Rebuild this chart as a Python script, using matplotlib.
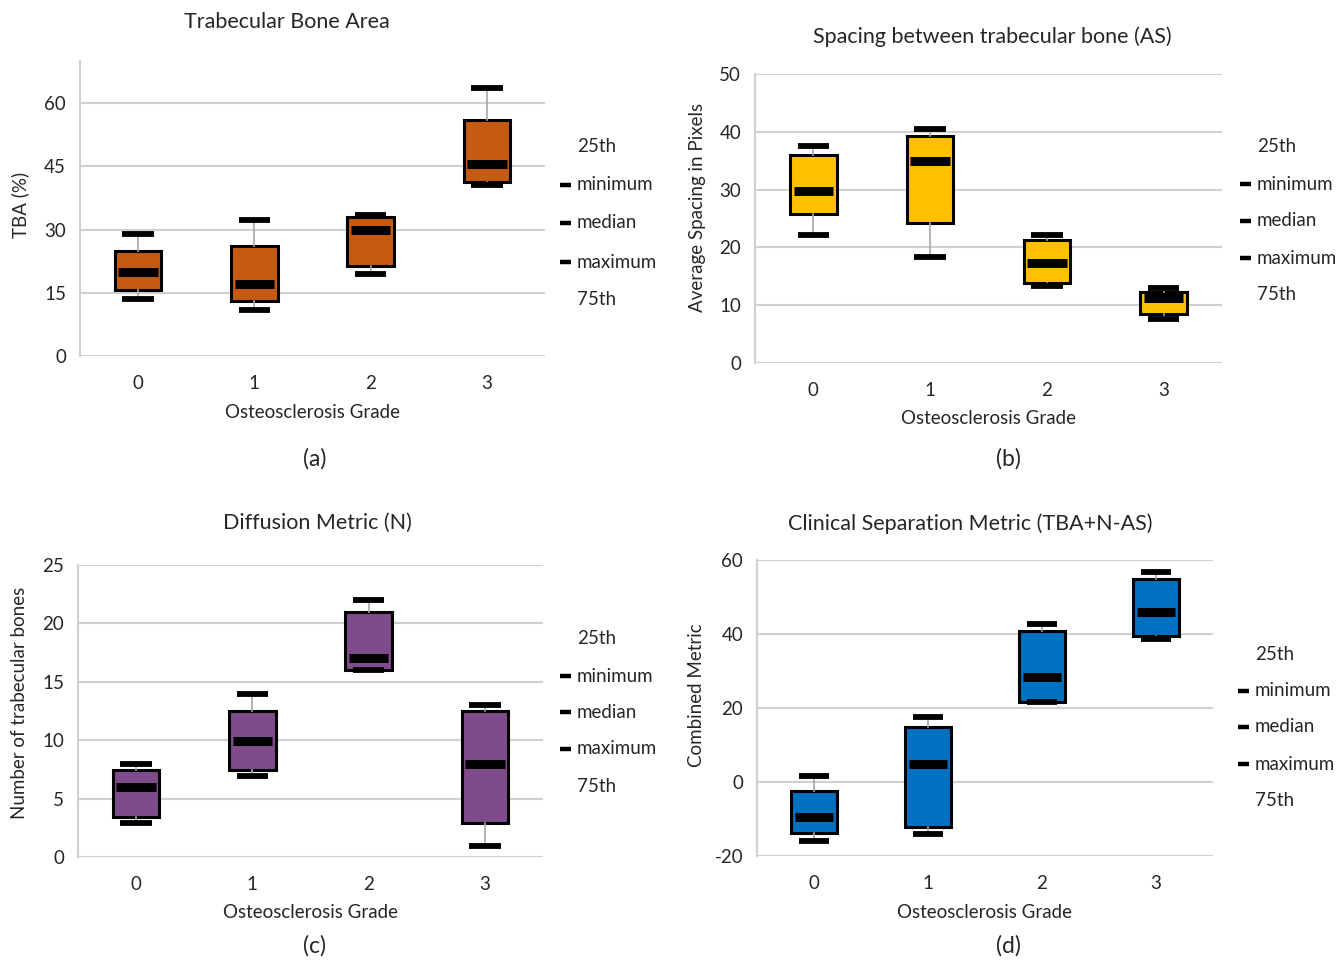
import matplotlib
matplotlib.use("Agg")
import matplotlib.pyplot as plt
from matplotlib.lines import Line2D

plt.rcParams['font.family'] = ['Lato', 'DejaVu Sans']
plt.rcParams['axes.unicode_minus'] = False

W, H = 1342, 961

# === DADOS ===
grades = [0, 1, 2, 3]

tba_min = [13.5, 10.8, 19.5, 40.5]
tba_q1 = [15.6, 13.0, 21.4, 41.3]
tba_med = [19.9, 17.2, 29.9, 45.5]
tba_q3 = [24.9, 26.2, 33.0, 56.1]
tba_max = [29.0, 32.3, 33.4, 63.6]

as_min = [22.2, 18.4, 13.4, 7.6]
as_q1 = [25.7, 24.3, 13.9, 8.5]
as_med = [29.7, 35.0, 17.3, 11.3]
as_q3 = [35.9, 39.3, 21.3, 12.2]
as_max = [37.5, 40.4, 22.1, 12.9]

n_min = [2.95, 6.96, 16.0, 0.97]
n_q1 = [3.44, 7.45, 16.0, 2.9]
n_med = [5.98, 9.97, 17.0, 8.0]
n_q3 = [7.47, 12.46, 21.0, 12.5]
n_max = [8.0, 13.97, 22.0, 13.0]

cm_min = [-15.9, -14.0, 21.5, 38.7]
cm_q1 = [-13.7, -12.1, 21.7, 39.4]
cm_med = [-9.5, 5.0, 28.5, 46.0]
cm_q3 = [-2.3, 14.9, 40.8, 55.0]
cm_max = [1.7, 17.5, 42.7, 56.8]

legend_labels = ["25th", "minimum", "median", "maximum", "75th"]

fig = plt.figure(figsize=(W / 100, H / 100), dpi=100)
TXT = '#262626'


def fx(px):
    return px / W


def fy(py):
    return 1 - py / H


def painel(rect_px, stats_cols, color, ylim, yticks, ylabel, title, title_xy,
           ylabel_xy, xlabel_y, letter, letter_xy, leg_x, leg_y):
    l, r, t, b = rect_px
    ax = fig.add_axes([fx(l), fy(b), fx(r - l), fy(t) - fy(b)])
    mn, q1, med, q3, mx = stats_cols
    stats = []
    for i in range(len(grades)):
        stats.append(dict(med=med[i], q1=q1[i], q3=q3[i],
                          whislo=mn[i], whishi=mx[i], fliers=[]))
    ax.bxp(stats, positions=grades, widths=0.4, capwidths=0.27,
           patch_artist=True, showfliers=False,
           boxprops=dict(facecolor=color, edgecolor='black', linewidth=2.2),
           whiskerprops=dict(color='#A6A6A6', linewidth=1.2),
           capprops=dict(color='black', linewidth=4.2, solid_capstyle='butt'),
           medianprops=dict(linewidth=0))
    ax.hlines(med, [g - 0.17 for g in grades], [g + 0.17 for g in grades],
              colors='black', linewidth=6.5, zorder=5)
    ax.set_xlim(-0.5, 3.5)
    ax.set_ylim(*ylim)
    ax.set_yticks(yticks)
    ax.set_xticks(grades)
    ax.set_xticklabels([str(g) for g in grades])
    ax.yaxis.grid(True, color='#D0D0D0', linewidth=1.5)
    ax.set_axisbelow(True)
    for s in ['top', 'right', 'bottom']:
        ax.spines[s].set_visible(False)
    ax.spines['left'].set_color('#D0D0D0')
    ax.spines['left'].set_linewidth(1.5)
    ax.tick_params(length=0, labelsize=13.5, colors=TXT, pad=10)
    ax.tick_params(axis='x', pad=14)
    fig.text(fx(title_xy[0]), fy(title_xy[1]), title, ha='center', va='center',
             fontsize=15.5, color=TXT)
    fig.text(fx(ylabel_xy[0]), fy(ylabel_xy[1]), ylabel, ha='center', va='center',
             rotation=90, fontsize=13.5, color=TXT)
    fig.text(fx((l + r) / 2), fy(xlabel_y), "Osteosclerosis Grade", ha='center',
             va='center', fontsize=13.5, color=TXT)
    fig.text(fx(letter_xy[0]), fy(letter_xy[1]), letter, ha='center', va='center',
             fontsize=16.5, color=TXT)
    for k, lab in enumerate(legend_labels):
        yy = leg_y[k]
        if lab in ("minimum", "median", "maximum"):
            fig.add_artist(Line2D([fx(leg_x), fx(leg_x + 11)], [fy(yy), fy(yy)],
                                  color='black', linewidth=3.2,
                                  solid_capstyle='butt',
                                  transform=fig.transFigure))
        fig.text(fx(leg_x + 17), fy(yy), lab, ha='left', va='center',
                 fontsize=13.5, color=TXT)
    return ax


painel((80, 545, 61, 356), (tba_min, tba_q1, tba_med, tba_q3, tba_max),
       '#C55A11', (0, 70), [0, 15, 30, 45, 60], "TBA (%)",
       "Trabecular Bone Area", (287, 22), (20, 205), 413, "(a)", (315, 459),
       560, [146, 185, 223, 262, 300])

painel((755, 1222, 74, 363), (as_min, as_q1, as_med, as_q3, as_max),
       '#FFC000', (0, 50), [0, 10, 20, 30, 40, 50], "Average Spacing in Pixels",
       "Spacing between trabecular bone (AS)", (992, 37), (697, 207), 419, "(b)",
       (1008, 459), 1240, [147, 184, 221, 258, 294])

painel((78, 543, 565, 857), (n_min, n_q1, n_med, n_q3, n_max),
       '#7F4B8B', (0, 25), [0, 5, 10, 15, 20, 25], "Number of trabecular bones",
       "Diffusion Metric (N)", (317, 523), (20, 703), 912, "(c)", (315, 946),
       560, [639, 676, 712, 749, 786])

painel((757, 1213, 560, 856), (cm_min, cm_q1, cm_med, cm_q3, cm_max),
       '#0070C0', (-20, 60), [-20, 0, 20, 40, 60], "Combined Metric",
       "Clinical Separation Metric (TBA+N-AS)", (970, 524), (697, 695), 912, "(d)",
       (1008, 946), 1238, [654, 691, 727, 764, 800])

fig.savefig("out.png", dpi=100)
